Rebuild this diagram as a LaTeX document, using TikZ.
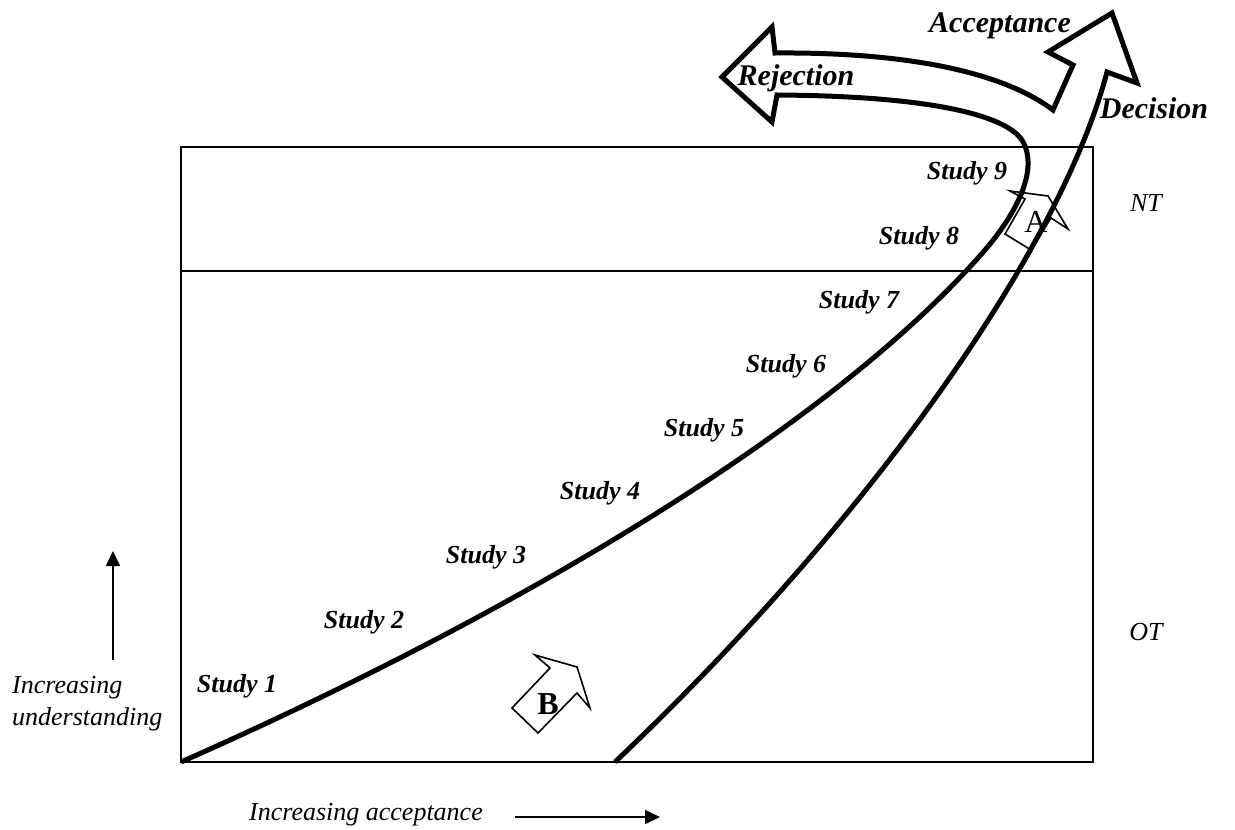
\documentclass[tikz,border=0pt]{standalone}
\usepackage{fontspec}
\setmainfont{Liberation Serif}
\usetikzlibrary{arrows.meta}
\tikzset{
  studylbl/.style={font=\fontsize{26}{30}\selectfont\bfseries\itshape, inner sep=0pt},
  biglbl/.style={font=\fontsize{30}{34}\selectfont\bfseries\itshape, inner sep=0pt},
  sidelbl/.style={font=\fontsize{26}{30}\selectfont\itshape, inner sep=0pt},
  thickcurve/.style={line width=5pt, line join=miter, miter limit=10},
  smallarrow/.style={line width=1.6pt, fill=white, line join=miter},
  frame/.style={line width=2pt},
  axisarrow/.style={line width=1.6pt, -{Triangle[length=15pt,width=14pt]}}
}
\begin{document}
\begin{tikzpicture}[x=1pt,y=-1pt]
\useasboundingbox (0,0) rectangle (1235,830);
% frame
\draw[frame] (181,147) rectangle (1093,762);
\draw[frame] (181,271) -- (1093,271);
% small block arrows
\draw[smallarrow] (535,655) -- (577,667) -- (590,708) -- (577,693) -- (538,733) -- (512,708) -- (550,668) -- cycle;
\node[font=\fontsize{32}{34}\selectfont\bfseries, inner sep=0pt] (B) at (548,704) {B};
\draw[smallarrow] (1010,191) -- (1048,196) -- (1068,229) -- (1051,218) -- (1031,250) -- (1005,234) -- (1025,199) -- cycle;
\node[font=\fontsize{32}{34}\selectfont, inner sep=0pt] (A) at (1036,222) {A};
% big decision path
\draw[thickcurve]
  (181,762) .. controls (480,630) and (820,440) .. (985,250)
  .. controls (1015,215) and (1040,170) .. (1022,140)
  .. controls (1005,115) and (930,96) .. (777,95)
  -- (772,122) -- (722,77) -- (772,27) -- (775,53)
  .. controls (900,52) and (1000,70) .. (1053,110)
  -- (1073,65) -- (1048,52) -- (1112,13) -- (1137,83) -- (1107,72)
  .. controls (1060,250) and (870,520) .. (615,762);
% labels
\node[biglbl] (rej) at (796,78) {Rejection};
\node[biglbl] (acc) at (1000,26) {Acceptance};
\node[biglbl] (dec) at (1154,108) {Decision};
\node[studylbl] (s1) at (237,686) {Study 1};
\node[studylbl] (s2) at (364,622) {Study 2};
\node[studylbl] (s3) at (486,557) {Study 3};
\node[studylbl] (s4) at (600,493) {Study 4};
\node[studylbl] (s5) at (704,430) {Study 5};
\node[studylbl] (s6) at (786,366) {Study 6};
\node[studylbl] (s7) at (859,302) {Study 7};
\node[studylbl] (s8) at (919,238) {Study 8};
\node[studylbl] (s9) at (967,173) {Study 9};
\node[sidelbl] (nt) at (1146,203) {NT};
\node[sidelbl] (ot) at (1146,632) {OT};
\node[sidelbl, anchor=west, align=left, font=\fontsize{26}{32}\selectfont\itshape] (und) at (12,704) {Increasing\\understanding};
\node[sidelbl] (acl) at (366,815) {Increasing acceptance};
% axis arrows
\coordinate (ua) at (113,660);
\coordinate (ub) at (113,551);
\draw[axisarrow] (ua) -- (ub);
\coordinate (aa) at (515,817);
\coordinate (ab) at (660,817);
\draw[axisarrow] (aa) -- (ab);
\end{tikzpicture}
\end{document}
